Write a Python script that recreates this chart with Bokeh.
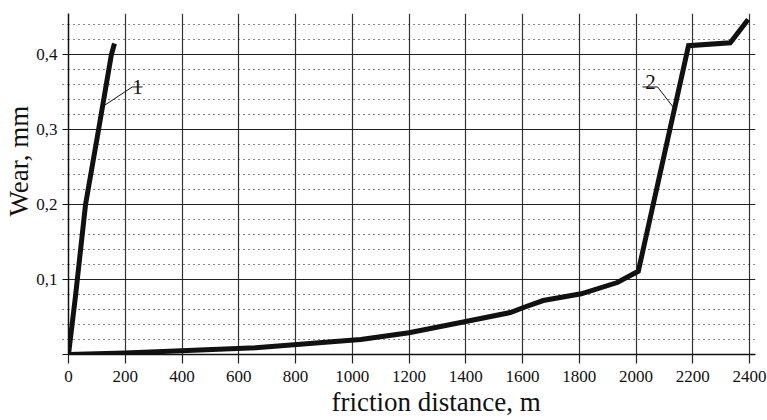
import math
from bokeh.plotting import figure
from bokeh.models import FixedTicker, CustomJSTickFormatter, Title, Range1d
from bokeh.core.properties import value
from bokeh.embed import file_html
from bokeh.resources import INLINE

# ---- data ----
x_ticks = [0, 200, 400, 600, 800, 1000, 1200, 1400, 1600, 1800, 2000, 2200, 2400]
y_major = [0.0, 0.1, 0.2, 0.3, 0.4]
y_minor = [0.02, 0.04, 0.06, 0.08, 0.12, 0.14, 0.16, 0.18, 0.22, 0.24, 0.26, 0.28,
           0.32, 0.34, 0.36, 0.38, 0.42, 0.44]

curve1_x = [0, 25, 60, 106, 151, 162]
curve1_y = [0.0, 0.079, 0.2, 0.3, 0.4, 0.415]

curve2_x = [0, 200, 660, 995, 1030, 1200, 1400, 1557, 1606, 1673, 1807, 1934, 2008, 2185, 2332, 2395]
curve2_y = [0.0, 0.002, 0.009, 0.019, 0.020, 0.029, 0.044, 0.056, 0.063, 0.072, 0.081, 0.096,
            0.111, 0.412, 0.416, 0.447]

curve_names = ["1", "2"]
name_x = [243, 2051]
name_y = [0.357, 0.363]
leader1_x = [121, 225, 261]
leader1_y = [0.331, 0.357, 0.357]
leader2_x = [2023, 2076, 2133]
leader2_y = [0.357, 0.357, 0.329]

x_title = "friction distance, m"
y_title = "Wear, mm"

FONT = "Liberation Serif"

p = figure(width=767, height=420, output_backend="svg", toolbar_location=None,
           x_range=Range1d(0, 2421), y_range=Range1d(0, 0.455),
           min_border_left=68, min_border_right=12, min_border_top=13, min_border_bottom=66)
p.outline_line_color = None
p.background_fill_color = "white"
p.border_fill_color = "white"

# x axis
xa = p.xaxis[0]
xa.ticker = FixedTicker(ticks=x_ticks, minor_ticks=[])
xa.major_tick_out = 9
xa.major_tick_in = 0
xa.minor_tick_out = 0
xa.axis_line_width = 1.5
xa.axis_line_color = "#111111"
xa.major_tick_line_color = "#222222"
xa.major_tick_line_width = 1.2
xa.major_label_standoff = 7
xa.major_label_text_font = FONT
xa.major_label_text_font_size = "17px"
xa.major_label_text_color = "#111111"

# y axis
ya = p.yaxis[0]
ya.ticker = FixedTicker(ticks=y_major, minor_ticks=y_minor)
ya.formatter = CustomJSTickFormatter(code="return tick < 0.05 ? '' : tick.toFixed(1).replace('.', ',');")
ya.major_tick_out = 6
ya.major_tick_in = 0
ya.minor_tick_out = 6
ya.minor_tick_in = 0
ya.minor_tick_line_dash = "1 4"
ya.minor_tick_line_color = "#111111"
ya.axis_line_width = 1.5
ya.axis_line_color = "#111111"
ya.major_tick_line_color = "#111111"
ya.major_tick_line_width = 1.2
ya.major_label_standoff = 5
ya.major_label_text_font = FONT
ya.major_label_text_font_size = "17px"
ya.major_label_text_color = "#111111"

# grids
p.xgrid.ticker = FixedTicker(ticks=x_ticks[1:], minor_ticks=[])
p.xgrid.grid_line_color = "#333333"
p.xgrid.grid_line_width = 1.2
p.ygrid.ticker = FixedTicker(ticks=y_major[1:], minor_ticks=y_minor)
p.ygrid.grid_line_color = "#222222"
p.ygrid.grid_line_width = 1.2
p.ygrid.minor_grid_line_color = "#111111"
p.ygrid.minor_grid_line_dash = "1 4"
p.ygrid.minor_grid_line_width = 1.2

# curves
p.line(curve1_x, curve1_y, line_width=5, color="#111111", line_join="miter")
p.line(curve2_x, curve2_y, line_width=5, color="#111111", line_join="miter")

# leaders and curve names
p.line(leader1_x, leader1_y, line_width=1, color="#111111")
p.line(leader2_x, leader2_y, line_width=1, color="#111111")
p.text(x=name_x, y=name_y, text=curve_names, text_font=value(FONT), text_font_size="21px",
       text_align="center", text_baseline="alphabetic", text_color="#111111")

# axis titles
p.add_layout(Title(text=y_title, align="left", offset=138, standoff=0,
                   text_font=FONT, text_font_size="27px", text_font_style="normal",
                   text_color="#111111"), "left")
p.add_layout(Title(text=x_title, align="left", offset=263, standoff=0,
                   text_font=FONT, text_font_size="27px", text_font_style="normal",
                   text_color="#111111"), "below")

open("out.html", "w").write(file_html(p, INLINE))
